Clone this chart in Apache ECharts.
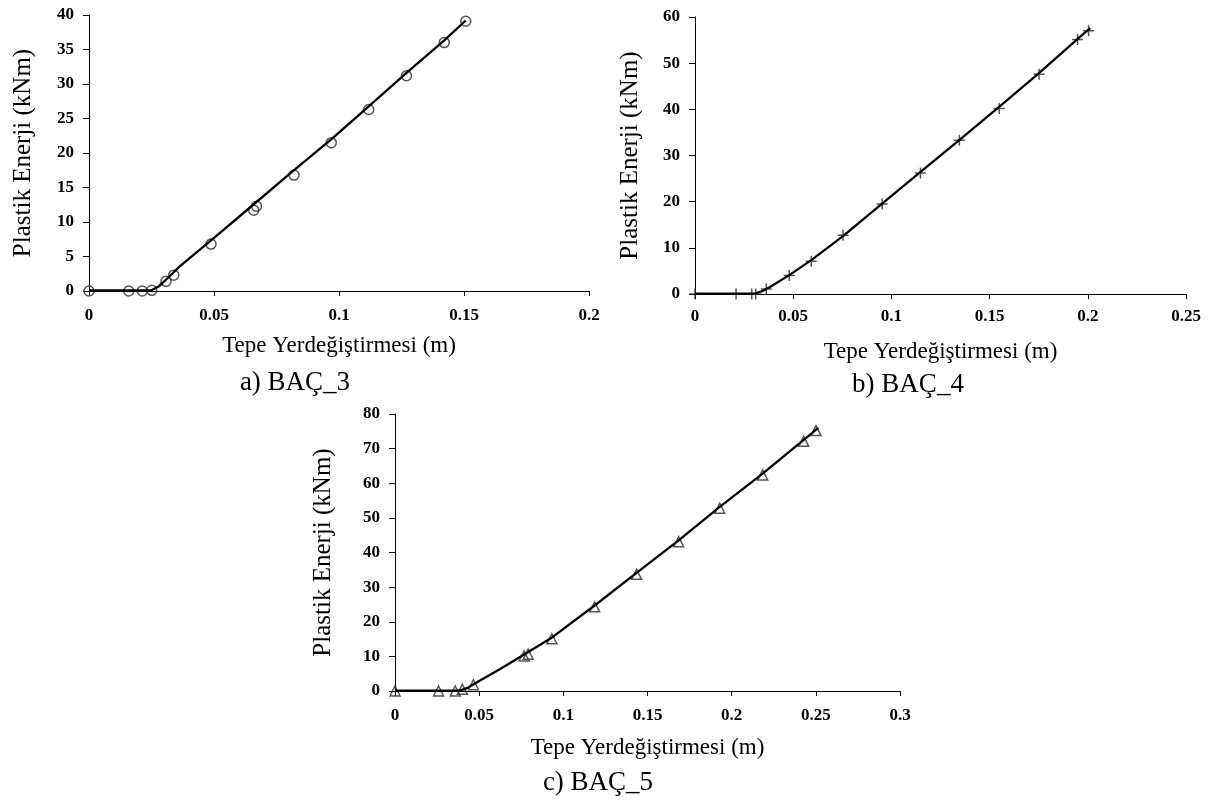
<!DOCTYPE html>
<html>
<head>
<meta charset="utf-8">
<script src="https://cdn.jsdelivr.net/npm/echarts@6/dist/echarts.min.js"></script>
<style>
html,body{margin:0;padding:0;background:#fff;}
#chart{width:1217px;height:803px;}
</style>
</head>
<body>
<div id="chart"></div>
<script>
// ---- Data ----
// a) BAÇ_3 — markers (open circles)
const a_markX = [0, 0.0159, 0.0213, 0.0251, 0.0308, 0.0339, 0.0488, 0.0659, 0.0670, 0.0820, 0.0969, 0.1119, 0.1270, 0.1421, 0.1507];
const a_markY = [0, 0, 0, 0.1, 1.4, 2.3, 6.8, 11.7, 12.3, 16.8, 21.5, 26.3, 31.2, 36.0, 39.1];
// a) curve
const a_lineX = [0, 0.025, 0.028, 0.031, 0.0364, 0.0487, 0.0657, 0.0813, 0.097, 0.112, 0.127, 0.142, 0.1507];
const a_lineY = [0.1, 0.1, 0.7, 1.7, 3.6, 7.3, 12.5, 17.3, 22.0, 26.8, 31.6, 36.3, 39.2];

// b) BAÇ_4 — markers (plus)
const b_markX = [0, 0.0209, 0.0289, 0.0309, 0.0363, 0.0480, 0.0592, 0.0754, 0.0953, 0.1148, 0.1346, 0.1549, 0.1752, 0.1948, 0.2004];
const b_markY = [0, 0, 0, 0, 1.1, 4.0, 7.1, 12.7, 19.5, 26.2, 33.3, 40.2, 47.6, 55.1, 57.0];
// b) curve
const b_lineX = [0, 0.0305, 0.034, 0.0382, 0.0484, 0.0594, 0.0755, 0.0959, 0.115, 0.135, 0.155, 0.175, 0.195, 0.2012];
const b_lineY = [0.1, 0.1, 0.6, 1.5, 4.2, 7.4, 12.6, 19.8, 26.5, 33.5, 40.6, 47.8, 55.3, 57.6];

// c) BAÇ_5 — markers (open triangles)
const c_markX = [0, 0.0259, 0.0358, 0.0400, 0.0466, 0.0767, 0.0791, 0.0932, 0.1186, 0.1435, 0.1685, 0.1929, 0.2184, 0.2428, 0.2501];
const c_markY = [0, 0, 0, 0.5, 1.8, 10.1, 10.6, 15.1, 24.3, 33.7, 43.1, 52.8, 62.4, 72.1, 75.2];
// c) curve
const c_lineX = [0, 0.0386, 0.043, 0.0505, 0.063, 0.0762, 0.0931, 0.1186, 0.1435, 0.1685, 0.1929, 0.2184, 0.2428, 0.2515];
const c_lineY = [0.1, 0.1, 0.9, 3.0, 6.5, 10.4, 15.4, 24.7, 34.1, 43.5, 53.2, 62.8, 72.5, 76.0];

// axes
const xMax = [0.2, 0.25, 0.3];
const yMax = [40, 60, 80];
const yStep = [5, 10, 10];
const xStep = 0.05;
const xName = 'Tepe Yerdeğiştirmesi (m)';
const yName = 'Plastik Enerji (kNm)';
const captions = ['a) BAÇ_3', 'b) BAÇ_4', 'c) BAÇ_5'];

// ---- Build ----
const zip = (xs, ys) => xs.map((x, i) => [x, ys[i]]);
const serif = "'Liberation Serif', 'Times New Roman', serif";

const grids = [
  {left: 89, top: 15, width: 500, height: 276},
  {left: 695, top: 17, width: 491, height: 277},
  {left: 395, top: 414, width: 505, height: 277}
];
const xNameGap = [43, 46, 45];
const yNameGap = [53, 52, 59];
const xLabelMargin = [16, 14, 16];

const tickLabel = {fontFamily: serif, fontWeight: 'bold', fontSize: 17, color: '#000'};
const axisLine = {show: true, lineStyle: {color: '#000', width: 1}};

const xAxes = grids.map((g, i) => ({
  type: 'value', gridIndex: i, min: 0, max: xMax[i], interval: xStep,
  axisLine: axisLine, splitLine: {show: false},
  axisTick: {show: true, inside: false, length: 5, lineStyle: {color: '#000'}},
  axisLabel: Object.assign({margin: xLabelMargin[i], formatter: v => String(+v.toFixed(2))}, tickLabel),
  name: xName, nameLocation: 'middle', nameGap: xNameGap[i],
  nameTextStyle: {fontFamily: serif, fontSize: 23, color: '#000'}
}));
const yAxes = grids.map((g, i) => ({
  type: 'value', gridIndex: i, min: 0, max: yMax[i], interval: yStep[i],
  axisLine: axisLine, splitLine: {show: false},
  axisTick: {show: true, inside: false, length: 6, lineStyle: {color: '#000'}},
  axisLabel: Object.assign({margin: 15}, tickLabel),
  name: yName, nameLocation: 'middle', nameGap: yNameGap[i], nameRotate: 90,
  nameTextStyle: {fontFamily: serif, fontSize: 25, color: '#000'}
}));

const markerStyle = {color: 'rgba(0,0,0,0)', borderColor: '#2a2a2a', borderWidth: 1.5};
const lineSeries = (data, i) => ({
  type: 'line', xAxisIndex: i, yAxisIndex: i, data: data,
  showSymbol: false, smooth: false,
  lineStyle: {color: '#000', width: 2.3, join: 'round'}, z: 3, silent: true
});
const markSeries = (data, i, symbol, size) => ({
  type: 'scatter', xAxisIndex: i, yAxisIndex: i, data: data,
  symbol: symbol, symbolSize: size, itemStyle: markerStyle, z: 2, silent: true
});

const series = [
  lineSeries(zip(a_lineX, a_lineY), 0),
  markSeries(zip(a_markX, a_markY), 0, 'circle', 10),
  lineSeries(zip(b_lineX, b_lineY), 1),
  markSeries(zip(b_markX, b_markY), 1, 'path://M0,5L10,5M5,0L5,10', 11),
  lineSeries(zip(c_lineX, c_lineY), 2),
  markSeries(zip(c_markX, c_markY), 2, 'triangle', 10)
];

const capPos = [[295, 383], [908, 385], [598, 783]];
const graphic = captions.map((t, i) => ({
  type: 'text', x: capPos[i][0], y: capPos[i][1],
  style: {text: t, fontFamily: serif, fontSize: 27, fill: '#000', textAlign: 'center', textVerticalAlign: 'middle'}
}));

const chart = echarts.init(document.getElementById('chart'), null, {renderer: 'canvas'});
chart.setOption({
  backgroundColor: '#fff',
  animation: false,
  grid: grids,
  xAxis: xAxes,
  yAxis: yAxes,
  series: series,
  graphic: graphic
});
</script>
</body>
</html>
